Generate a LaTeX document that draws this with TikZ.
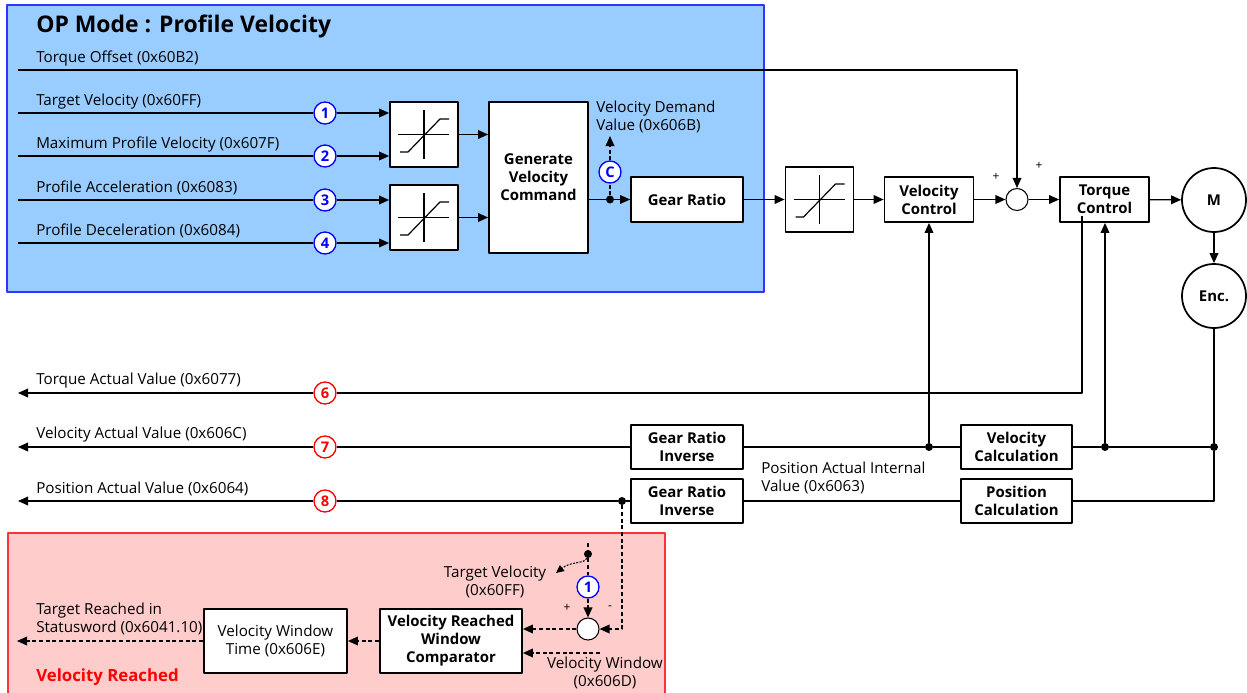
\documentclass[tikz,border=0pt]{standalone}
\usepackage{fontspec}
\setmainfont{Open Sans}
\usetikzlibrary{arrows.meta, calc}

\definecolor{modeblue}{RGB}{153,204,255}
\definecolor{modeedge}{RGB}{51,51,255}
\definecolor{reachpink}{RGB}{255,204,204}
\definecolor{reachedge}{RGB}{255,51,51}

\tikzset{
  wire/.style={line width=1pt},
  sig/.style={wire, -{Triangle[length=7.5pt, width=6.5pt]}},
  dwire/.style={wire, dash pattern=on 3pt off 2pt},
  dsig/.style={dwire, -{Triangle[length=7.5pt, width=6.5pt]}},
  blk/.style={draw, line width=1.3pt, fill=white, inner sep=0pt, align=center,
    font=\fontsize{11.2}{13.5}\selectfont\bfseries},
  ctlbox/.style={blk, minimum width=66.75pt, minimum height=33.75pt},
  calcbox/.style={blk, minimum width=83.5pt, minimum height=33pt},
  lim/.style={draw, line width=1.3pt, fill=white, minimum width=51pt, minimum height=48.75pt,
    path picture={
      \begin{scope}[shift={(path picture bounding box.center)}, line width=0.9pt]
        \draw (-26,0) -- (25,0) (0,-24.5) -- (0,24.5);
        \draw (-24,17.5) -- (-16,17.5) -- (16,-15.5) -- (25,-15.5);
      \end{scope}}},
  numb/.style={circle, draw=blue, text=blue, fill=white, line width=1pt, inner sep=0pt,
    minimum size=16.5pt, font=\fontsize{11}{12}\selectfont\bfseries},
  numr/.style={numb, draw=red, text=red},
  lbl/.style={anchor=west, inner sep=0pt, font=\fontsize{11.4}{13.5}\selectfont},
  sgn/.style={inner sep=0pt, font=\fontsize{9}{10}\selectfont},
  dot/.style={circle, fill, inner sep=0pt, minimum size=6pt},
  junc/.style={circle, draw, line width=0.8pt, fill=white, inner sep=0pt, minimum size=16.5pt},
}

\begin{document}
\begin{tikzpicture}[x=0.75pt, y=-0.75pt, line join=round]
  \useasboundingbox (0,0) rectangle (1247,693);

  % shaded areas first
  \filldraw[fill=modeblue, draw=modeedge, line width=1pt] (7,5) rectangle (764,292);
  \fill[reachpink] (8,533) rectangle (665,700);
  \draw[reachedge, line width=1pt] (8,700) -- (8,533) -- (665,533) -- (665,700);

  \node[anchor=west, inner sep=0pt, font=\fontsize{17.2}{20}\selectfont\bfseries] (title) at (36,26) {OP Mode : Profile Velocity};

  % object inputs
  \coordinate (toff) at (18,70);
  \coordinate (tvin) at (18,113);
  \coordinate (mpin) at (18,156);
  \coordinate (pain) at (18,200);
  \coordinate (pdin) at (18,243);
  \node[lbl] at (36,59)  {Torque Offset (0x60B2)};
  \node[lbl] at (36,102) {Target Velocity (0x60FF)};
  \node[lbl] at (36,145) {Maximum Profile Velocity (0x607F)};
  \node[lbl] at (36,188) {Profile Acceleration (0x6083)};
  \node[lbl] at (36,231) {Profile Deceleration (0x6084)};

  % forward path
  \node[lim] (lim1) at (424,134.5) {};
  \node[lim] (lim2) at (424,217.5) {};
  \node[blk, minimum width=74.25pt, minimum height=113.25pt] (gen) at (538.5,177.5) {Generate\\Velocity\\Command};
  \node[blk, minimum width=84pt, minimum height=33.75pt] (gear) at (687,199.5) {Gear Ratio};
  \node[lim] (lim3) at (819.5,199.5) {};
  \node[ctlbox] (vctl) at (929,199.5) {Velocity\\Control};
  \node[junc] (sum) at (1017,199.5) {};
  \node[ctlbox] (tctl) at (1104.5,199.5) {Torque\\Control};
  \node[blk, circle, minimum size=48pt] (motor) at (1214,200) {M};
  \node[blk, circle, minimum size=48pt] (enc) at (1214,296) {Enc.};
  \node[sgn] at (996,177) {+};
  \node[sgn] at (1039,166) {+};

  \node[numb] (n1) at (325,113) {1};
  \node[numb] (n2) at (325,156) {2};
  \node[numb] (n3) at (325,200) {3};
  \node[numb] (n4) at (325,243) {4};

  \draw[wire] (tvin) -- (n1);  \draw[sig] (n1) -- (n1 -| lim1.west);
  \draw[wire] (mpin) -- (n2);  \draw[sig] (n2) -- (n2 -| lim1.west);
  \draw[wire] (pain) -- (n3);  \draw[sig] (n3) -- (n3 -| lim2.west);
  \draw[wire] (pdin) -- (n4);  \draw[sig] (n4) -- (n4 -| lim2.west);
  \draw[sig] (lim1) -- (lim1 -| gen.west);
  \draw[sig] (lim2) -- (lim2 -| gen.west);

  % velocity demand tap
  \node[dot] (cdot) at (610,199.5) {};
  \node[numb] (nc) at (610,172) {C};
  \coordinate (vdem) at (610,136);
  \draw[wire] (gen.east |- cdot) -- (cdot);
  \draw[sig] (cdot) -- (gear);
  \draw[dwire] (cdot) -- (nc);
  \draw[dsig] (nc) -- (vdem);
  \node[lbl, align=left] at (596,117) {Velocity Demand\\Value (0x606B)};

  \draw[sig] (gear) -- (lim3);
  \draw[sig] (lim3) -- (vctl);
  \draw[sig] (vctl) -- (sum);
  \draw[sig] (sum) -- (tctl);
  \draw[sig] (tctl) -- (motor);
  \draw[sig] (motor) -- (enc);
  \draw[sig] (toff) -| (sum);

  % feedback path
  \node[calcbox] (gri1) at (687,447) {Gear Ratio\\Inverse};
  \node[calcbox] (gri2) at (687,501) {Gear Ratio\\Inverse};
  \node[calcbox] (vcalc) at (1016.5,447) {Velocity\\Calculation};
  \node[calcbox] (pcalc) at (1016.5,501) {Position\\Calculation};
  \node[dot] (edot) at (1214,447) {};
  \node[dot] (tdot) at (1105,447) {};
  \node[dot] (vdot) at (929,447) {};
  \node[dot] (pdot) at (622,501) {};
  \node[numr] (n6) at (325,393) {6};
  \node[numr] (n7) at (325,447) {7};
  \node[numr] (n8) at (325,501) {8};
  \coordinate (tq) at (1082,216);
  \coordinate (tqout) at (18,393);
  \coordinate (vout) at (18,447);
  \coordinate (pout) at (18,501);

  \draw[wire] (tq) |- (n6);      \draw[sig] (n6) -- (tqout);
  \draw[wire] (enc) -- (edot);
  \draw[wire] (edot) |- (pcalc);
  \draw[wire] (edot) -- (tdot) -- (vcalc);
  \draw[sig] (tdot) -- (tdot |- tctl.south);
  \draw[wire] (vcalc) -- (vdot) -- (gri1);
  \draw[sig] (vdot) -- (vdot |- vctl.south);
  \draw[wire] (gri1) -- (n7);    \draw[sig] (n7) -- (vout);
  \draw[wire] (pcalc) -- (gri2);
  \draw[wire] (gri2) -- (pdot) -- (n8);
  \draw[sig] (n8) -- (pout);

  \node[lbl] at (36,381) {Torque Actual Value (0x6077)};
  \node[lbl] at (36,435) {Velocity Actual Value (0x606C)};
  \node[lbl] at (36,489) {Position Actual Value (0x6064)};
  \node[lbl, align=left] at (761,478) {Position Actual Internal\\Value (0x6063)};

  % velocity reached
  \node[junc] (sum2) at (588,629) {};
  \node[dot] (tvdot) at (588,554) {};
  \coordinate (tvtop) at (588,543);
  \node[numb] (n1b) at (588,587) {1};
  \node[blk, minimum width=106.5pt, minimum height=48pt] (cmp) at (451,641) {Velocity Reached\\Window\\Comparator};
  \node[blk, font=\fontsize{11.4}{13.5}\selectfont, minimum width=107.25pt, minimum height=48pt] (wtime) at (275.5,641) {Velocity Window\\Time (0x606E)};
  \coordinate (vwin) at (600,653);
  \coordinate (trout) at (17,641);
  \coordinate (tvarr) at (556,573);

  \draw[dwire] (tvtop) -- (tvdot);
  \draw[dwire] (tvdot) -- (n1b);
  \draw[dsig] (n1b) -- (sum2);
  \draw[line width=0.8pt, dash pattern=on 1.5pt off 1pt, -{Triangle[length=6pt, width=5.5pt]}]
    (tvdot) .. controls (585,564) and (571,561) .. (tvarr);
  \draw[dsig] (pdot) |- (sum2);
  \draw[dsig] (sum2) -- (sum2 -| cmp.east);
  \draw[dsig] (vwin) -- (vwin -| cmp.east);
  \draw[dsig] (cmp) -- (wtime);
  \draw[dsig] (wtime) -- (trout);

  \node[sgn] at (567,608) {+};
  \node[sgn] at (610,608) {-};
  \node[lbl, anchor=center, align=center] at (495,582) {Target Velocity\\(0x60FF)};
  \node[lbl, anchor=center, align=center] at (605,673) {Velocity Window\\(0x606D)};
  \node[lbl, align=left] at (36,619) {Target Reached in\\Statusword (0x6041.10)};
  \node[lbl, text=red, font=\fontsize{12.6}{14}\selectfont\bfseries] at (36,677) {Velocity Reached};

\end{tikzpicture}
\end{document}
